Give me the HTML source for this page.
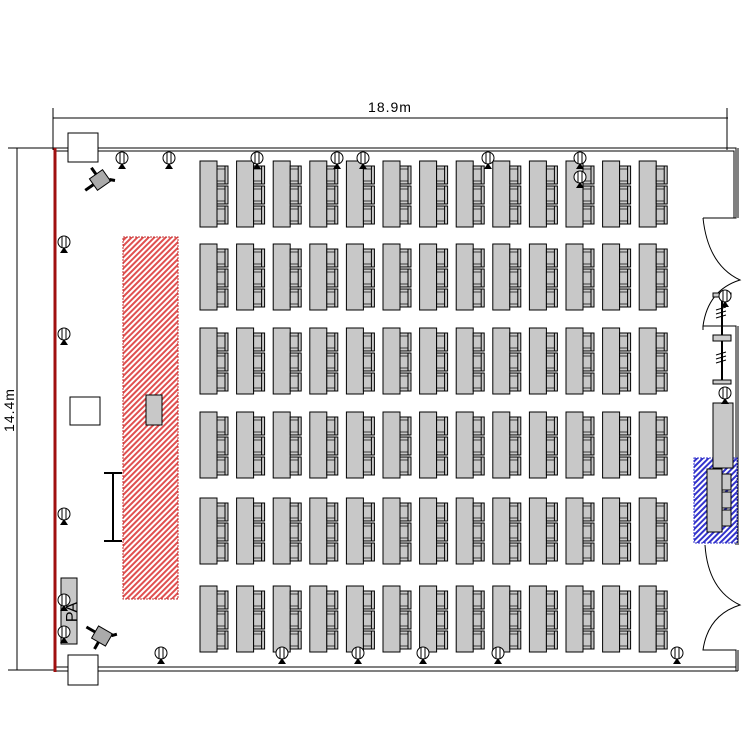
<!DOCTYPE html>
<html><head><meta charset="utf-8"><style>html,body{margin:0;padding:0;background:#fff}svg{display:block}</style></head>
<body>
<svg width="750" height="750" viewBox="0 0 750 750" xmlns="http://www.w3.org/2000/svg">
<defs>
<pattern id="red" patternUnits="userSpaceOnUse" width="4" height="4" patternTransform="rotate(45)"><rect width="4" height="4" fill="#fff"/><rect width="2" height="4" fill="#e05050"/></pattern>
<pattern id="blue" patternUnits="userSpaceOnUse" width="4" height="4" patternTransform="rotate(45)"><rect width="4" height="4" fill="#fff"/><rect width="2" height="4" fill="#3333cc"/></pattern>
<g id="ch"><rect x="0" y="0" width="11" height="18" fill="#c8c8c8" stroke="#000" stroke-width="1"/><line x1="8" y1="0" x2="8" y2="18" stroke="#000"/><line x1="0" y1="3" x2="8" y2="3" stroke="#000" stroke-width="0.7"/><line x1="0" y1="15" x2="8" y2="15" stroke="#000" stroke-width="0.7"/></g>
<g id="d"><rect x="0" y="0" width="17" height="66" fill="#c8c8c8" stroke="#000"/><use href="#ch" x="17" y="5"/><use href="#ch" x="17" y="25"/><use href="#ch" x="17" y="45"/></g>
<g id="sp"><circle cx="0" cy="0" r="6" fill="#fff" stroke="#000"/><line x1="-2" y1="-6" x2="-2" y2="6" stroke="#000"/><line x1="2" y1="-6" x2="2" y2="6" stroke="#000"/><polygon points="-4,11 4,11 0,5" fill="#000"/></g>
<g id="row"><use href="#d" x="200"/><use href="#d" x="236.6"/><use href="#d" x="273.2"/><use href="#d" x="309.8"/><use href="#d" x="346.4"/><use href="#d" x="383"/><use href="#d" x="419.6"/><use href="#d" x="456.2"/><use href="#d" x="492.8"/><use href="#d" x="529.4"/><use href="#d" x="566"/><use href="#d" x="602.6"/><use href="#d" x="639.2"/></g>
</defs>
<!-- dimensions -->
<line x1="53" y1="118" x2="728" y2="118" stroke="#000"/>
<line x1="53" y1="108" x2="53" y2="150" stroke="#000"/>
<line x1="727" y1="108" x2="727" y2="150" stroke="#000"/>
<text x="390" y="112" font-family="Liberation Sans, sans-serif" font-size="14" text-anchor="middle" letter-spacing="1">18.9m</text>
<line x1="17" y1="148" x2="17" y2="670" stroke="#000"/>
<line x1="8" y1="148" x2="56" y2="148" stroke="#000"/>
<line x1="8" y1="670" x2="56" y2="670" stroke="#000"/>
<text transform="translate(14,410) rotate(-90)" font-family="Liberation Sans, sans-serif" font-size="14" text-anchor="middle" letter-spacing="1">14.4m</text>
<!-- walls -->
<path d="M55 148 H736 V218 H703 M55 151 H734 V218" fill="none" stroke="#000"/>
<path d="M703 218 Q708 265 740 280 Q708 290 703 326 H736 V545 M703 326 V330" fill="none" stroke="#000"/>
<path d="M705 545 Q708 590 740 605 Q708 615 703 650 H736 V671" fill="none" stroke="#000"/>
<path d="M738 148 V218 M738 326 V545 M738 650 V671" stroke="#000"/>
<path d="M55 667 H736 M55 671 H738" fill="none" stroke="#000"/>
<rect x="68" y="133" width="30" height="29" fill="#fff" stroke="#000"/>
<rect x="68" y="655" width="30" height="30" fill="#fff" stroke="#000"/>
<line x1="55" y1="148" x2="55" y2="672" stroke="#a01010" stroke-width="3"/>
<!-- stage -->
<rect x="123" y="237" width="55" height="362" fill="url(#red)" stroke="#c03030" stroke-dasharray="2,1"/>
<rect x="146" y="395" width="16" height="30" fill="#c8c8c8" stroke="#000"/>
<rect x="70" y="397" width="30" height="28" fill="#fff" stroke="#000"/>
<path d="M104 473 H122 M113 473 V541 M104 541 H122" stroke="#000" stroke-width="2" fill="none"/>
<!-- PA -->
<rect x="61" y="578" width="16" height="66" fill="#c8c8c8" stroke="#000"/>
<text x="69" y="620" font-family="Liberation Sans, sans-serif" font-size="16" text-anchor="middle" transform="rotate(-90 69 612)">PA</text>
<!-- cameras -->
<g transform="translate(100,180) rotate(-35)"><rect x="-8" y="-7" width="16" height="14" fill="#aaa" stroke="#000"/><line x1="-8" y1="0" x2="-18" y2="0" stroke="#000" stroke-width="3"/><line x1="0" y1="-7" x2="0" y2="-15" stroke="#000" stroke-width="3"/><line x1="8" y1="5" x2="12" y2="9" stroke="#000" stroke-width="3"/></g>
<g transform="translate(102,636) rotate(30)"><rect x="-8" y="-7" width="16" height="14" fill="#aaa" stroke="#000"/><line x1="-8" y1="0" x2="-18" y2="0" stroke="#000" stroke-width="3"/><line x1="0" y1="7" x2="0" y2="15" stroke="#000" stroke-width="3"/><line x1="8" y1="-5" x2="12" y2="-9" stroke="#000" stroke-width="3"/></g>
<!-- desks -->
<use href="#row" y="161"/><use href="#row" y="244"/><use href="#row" y="328"/><use href="#row" y="412"/><use href="#row" y="498"/><use href="#row" y="586"/>
<!-- right equipment -->
<rect x="694" y="458" width="43" height="85" fill="url(#blue)" stroke="#3333cc" stroke-dasharray="2,1"/>
<rect x="713" y="403" width="20" height="65" fill="#c8c8c8" stroke="#000"/>
<rect x="707" y="469" width="15" height="63" fill="#c8c8c8" stroke="#000"/>
<rect x="722" y="474" width="9" height="16" fill="#c8c8c8" stroke="#000"/><rect x="722" y="492" width="9" height="16" fill="#c8c8c8" stroke="#000"/><rect x="722" y="510" width="9" height="16" fill="#c8c8c8" stroke="#000"/>
<line x1="722" y1="292" x2="722" y2="383" stroke="#000" stroke-width="2"/>
<rect x="713" y="293" width="18" height="4" fill="#ccc" stroke="#000"/>
<rect x="713" y="335" width="18" height="6" fill="#ccc" stroke="#000"/>
<rect x="713" y="380" width="18" height="4" fill="#ccc" stroke="#000"/>
<path d="M716 310 l10 -3 M716 314 l10 -3 M716 318 l10 -3 M716 355 l10 -3 M716 359 l10 -3 M716 363 l10 -3" stroke="#000"/>
<use href="#sp" x="725" y="296"/><use href="#sp" x="725" y="393"/>
<!-- spots -->
<use href="#sp" x="122" y="158"/><use href="#sp" x="169" y="158"/><use href="#sp" x="257" y="158"/><use href="#sp" x="337" y="158"/><use href="#sp" x="363" y="158"/><use href="#sp" x="488" y="158"/><use href="#sp" x="580" y="158"/><use href="#sp" x="580" y="177"/>
<use href="#sp" x="64" y="242"/><use href="#sp" x="64" y="334"/><use href="#sp" x="64" y="514"/><use href="#sp" x="64" y="600"/><use href="#sp" x="64" y="632"/>
<use href="#sp" x="161" y="653"/><use href="#sp" x="282" y="653"/><use href="#sp" x="358" y="653"/><use href="#sp" x="423" y="653"/><use href="#sp" x="498" y="653"/><use href="#sp" x="677" y="653"/>
</svg>
</body></html>
